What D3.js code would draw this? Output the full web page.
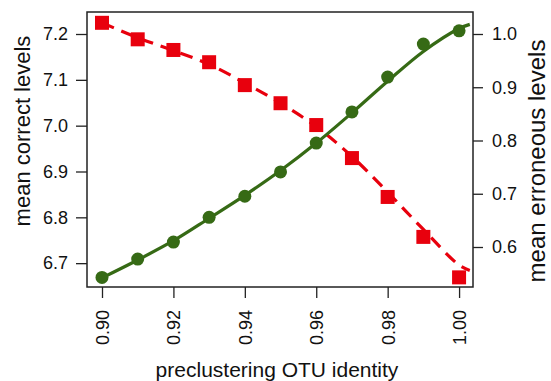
<!DOCTYPE html>
<html><head><meta charset="utf-8">
<script src="https://cdn.jsdelivr.net/npm/d3@7"></script>
<style>body{margin:0;background:#fff}svg{display:block}text{font-family:"Liberation Sans",Arial,sans-serif}</style>
</head><body>
<svg id="c" width="551" height="381"></svg>
<script>
const identity = [0.90,0.91,0.92,0.93,0.94,0.95,0.96,0.97,0.98,0.99,1.00];
const correct = [6.669,6.709,6.746,6.800,6.846,6.899,6.962,7.030,7.106,7.178,7.207];
const erroneous = [1.021,0.990,0.970,0.947,0.904,0.870,0.829,0.767,0.694,0.619,0.543];
const fitX = [0.90,0.91,0.92,0.93,0.94,0.95,0.96,0.97,0.98,0.99,1.00,1.003];
const correctFit = [6.668,6.707,6.749,6.798,6.848,6.902,6.962,7.028,7.097,7.162,7.212,7.221];
const erroneousFit = [1.021,0.993,0.969,0.943,0.908,0.870,0.826,0.770,0.703,0.633,0.566,0.556];
const xTicks = [0.90,0.92,0.94,0.96,0.98,1.00];
const leftTicks = [6.7,6.8,6.9,7.0,7.1,7.2];
const rightTicks = [0.6,0.7,0.8,0.9,1.0];

const svg = d3.select("#c");
const L=87,R=473,T=12,B=287;
const x = d3.scaleLinear().domain([0.8958,1.0039]).range([L,R]);
const yL = d3.scaleLinear().domain([6.648,7.248]).range([B,T]);
const yR = d3.scaleLinear().domain([0.5249,1.0413]).range([B,T]);
const red="#e8000d", green="#366a15", ink="#222";

// axes
const gl = svg.append("g").attr("transform",`translate(${L},0)`)
  .call(d3.axisLeft(yL).tickValues(leftTicks).tickSize(11).tickPadding(8).tickFormat(d3.format(".1f")));
const gr = svg.append("g").attr("transform",`translate(${R},0)`)
  .call(d3.axisRight(yR).tickValues(rightTicks).tickSize(10).tickPadding(9).tickFormat(d3.format(".1f")));
const gb = svg.append("g").attr("transform",`translate(0,${B})`)
  .call(d3.axisBottom(x).tickValues(xTicks).tickSize(11).tickFormat(d3.format(".2f")));
[gl,gr,gb].forEach(g=>{
  g.select(".domain").remove();
  g.selectAll("line").attr("stroke",ink).attr("stroke-width",1.3);
  g.selectAll("text").attr("fill","#111").style("font-size","18px");
});
gb.selectAll("text").attr("transform","rotate(-90)").attr("text-anchor","end")
  .attr("x",-23).attr("y",0).attr("dy","0.36em");

// frame
svg.append("rect").attr("x",L).attr("y",T).attr("width",R-L).attr("height",B-T)
  .attr("fill","none").attr("stroke",ink).attr("stroke-width",1.5);

// red series (right axis)
const lineR = d3.line().x((d,i)=>x(fitX[i])).y(d=>yR(d)).curve(d3.curveCatmullRom);
svg.append("path").datum(erroneousFit).attr("d",lineR).attr("fill","none")
  .attr("stroke",red).attr("stroke-width",3.2).attr("stroke-dasharray","13,8");
svg.append("g").selectAll("rect").data(erroneous).join("rect")
  .attr("x",(d,i)=>x(identity[i])-7).attr("y",d=>yR(d)-7).attr("width",14).attr("height",14).attr("fill",red);

// green series (left axis)
const lineL = d3.line().x((d,i)=>x(fitX[i])).y(d=>yL(d)).curve(d3.curveCatmullRom);
svg.append("path").datum(correctFit).attr("d",lineL).attr("fill","none")
  .attr("stroke",green).attr("stroke-width",3.2);
svg.append("g").selectAll("circle").data(correct).join("circle")
  .attr("cx",(d,i)=>x(identity[i])).attr("cy",d=>yL(d)).attr("r",6.5).attr("fill",green);

// titles
svg.append("text").attr("transform","translate(29.5,131) rotate(-90)").attr("text-anchor","middle")
  .style("font-size","22px").attr("fill","#111").text("mean correct levels");
svg.append("text").attr("transform","translate(545,161) rotate(-90)").attr("text-anchor","middle")
  .style("font-size","24px").attr("fill","#111").text("mean erroneous levels");
svg.append("text").attr("x",277).attr("y",377).attr("text-anchor","middle")
  .style("font-size","21px").attr("fill","#111").text("preclustering OTU identity");
</script>
</body></html>
